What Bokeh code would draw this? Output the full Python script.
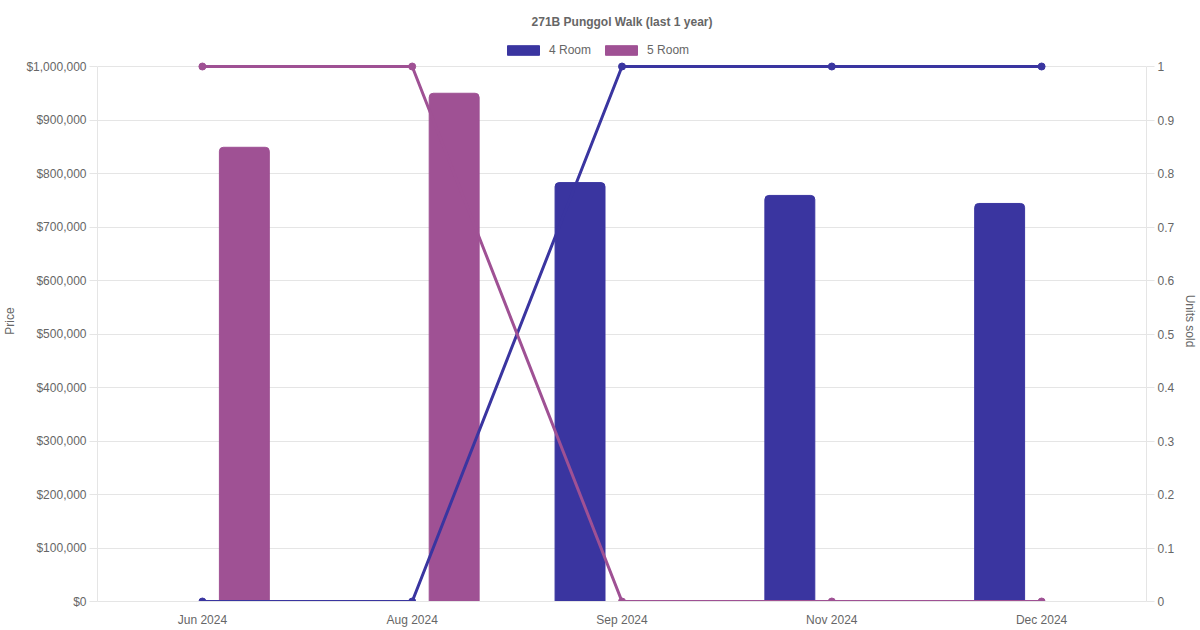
from bokeh.plotting import figure
from bokeh.models import (ColumnDataSource, FactorRange, Range1d, LinearAxis,
                          NumeralTickFormatter, Legend, LegendItem, FixedTicker)
from bokeh.transform import dodge
from bokeh.embed import file_html
from bokeh.resources import INLINE

# data
months = ["Jun 2024", "Aug 2024", "Sep 2024", "Nov 2024", "Dec 2024"]
price_4room = [None, None, 783000, 759000, 744000]
price_5room = [849000, 950000, None, None, None]
units_4room = [0, 0, 1, 1, 1]
units_5room = [1, 1, 0, 0, 0]
series = ["4 Room", "5 Room"]
price_max = 1000000
units_max = 1

c4 = "#3a35a0"
c5 = "#9f5194"
grey = "#666666"
grid = "#e5e5e5"
font = "Liberation Sans"

# frame extends above the top tick to leave room for the legend
head_room = 561 / 535


def bars(prices):
    xs = [m for m, v in zip(months, prices) if v is not None]
    ys = [v for v in prices if v is not None]
    return ColumnDataSource(dict(x=xs, top=ys))


p = figure(x_range=FactorRange(*months),
           y_range=Range1d(0, price_max * head_room),
           frame_width=1049, frame_height=561, output_backend="svg",
           toolbar_location=None, min_border_left=0, min_border_right=0,
           min_border_top=40, min_border_bottom=0)
p.extra_y_ranges = {"units": Range1d(0, units_max * head_room)}

p.title.text = "271B Punggol Walk (last 1 year)"
p.title.align = "center"
p.title.text_font = font
p.title.text_font_size = "12px"
p.title.text_font_style = "bold"
p.title.text_color = grey
p.title.standoff = 24

p.outline_line_color = None
p.xgrid.grid_line_color = None
p.ygrid.grid_line_color = grid

# left axis (price)
ya = p.yaxis[0]
ya.ticker = FixedTicker(ticks=list(range(0, price_max + 1, 100000)))
ya.formatter = NumeralTickFormatter(format="$0,0")
ya.axis_label = "Price"
ya.bounds = (0, price_max)

# right axis (units sold)
ra = LinearAxis(y_range_name="units", axis_label="Units sold",
                ticker=FixedTicker(ticks=[i / 10 for i in range(11)]),
                bounds=(0, units_max))
p.add_layout(ra, "right")

for ax in [ya, ra]:
    ax.major_tick_out = 8
    ax.major_tick_in = 0
    ax.minor_tick_line_color = None
    ax.major_tick_line_color = grid
    ax.axis_line_color = grid
    ax.major_label_standoff = 3
    ax.axis_label_standoff = 6

xa = p.xaxis[0]
xa.major_tick_line_color = None
xa.major_tick_out = 0
xa.minor_tick_line_color = None
xa.axis_line_color = grid
xa.major_label_standoff = 11

for ax in [ya, ra, xa]:
    ax.major_label_text_font = font
    ax.major_label_text_font_size = "12px"
    ax.major_label_text_color = grey
    ax.axis_label_text_font = font
    ax.axis_label_text_font_size = "12px"
    ax.axis_label_text_font_style = "normal"
    ax.axis_label_text_color = grey

# bars
b4 = p.vbar(x=dodge("x", -0.2, range=p.x_range), top="top", width=0.238,
            source=bars(price_4room), fill_color=c4, line_color=c4,
            border_radius=(4, 4, 0, 0))
b5 = p.vbar(x=dodge("x", 0.2, range=p.x_range), top="top", width=0.238,
            source=bars(price_5room), fill_color=c5, line_color=c5,
            border_radius=(4, 4, 0, 0))

# lines for units sold
p.line(months, units_4room, y_range_name="units", line_color=c4, line_width=3)
p.scatter(months, units_4room, y_range_name="units", size=7, fill_color=c4,
          line_color=c4)
p.line(months, units_5room, y_range_name="units", line_color=c5, line_width=3)
p.scatter(months, units_5room, y_range_name="units", size=7, fill_color=c5,
          line_color=c5)

legend = Legend(items=[LegendItem(label=series[0], renderers=[b4]),
                       LegendItem(label=series[1], renderers=[b5])],
                orientation="horizontal", location=(406, 544),
                glyph_width=40, glyph_height=12, spacing=10, padding=0,
                margin=0, label_standoff=6, label_height=12,
                label_text_font=font, label_text_font_size="12px",
                label_text_color=grey, border_line_color=None,
                background_fill_alpha=0)
p.add_layout(legend)

open("out.html", "w").write(file_html(p, INLINE))
